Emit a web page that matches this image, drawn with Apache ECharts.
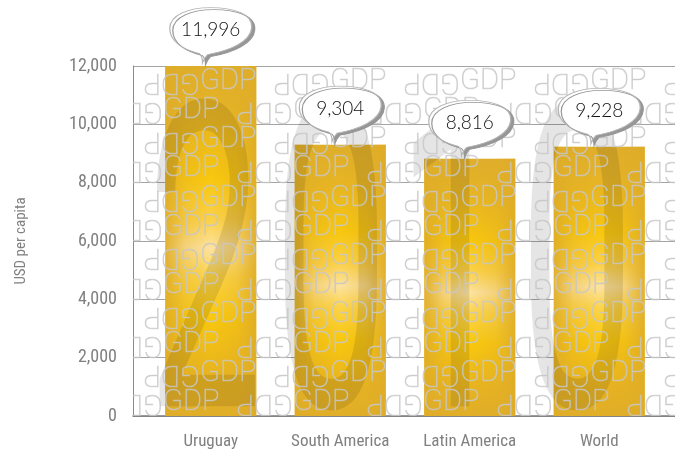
<!DOCTYPE html>
<html>
<head>
<meta charset="utf-8">
<script src="https://cdn.jsdelivr.net/npm/echarts@6/dist/echarts.min.js"></script>
<style>
html,body{margin:0;padding:0;background:#fff;}
#chart{width:675px;height:453px;}
</style>
</head>
<body>
<div id="chart"></div>
<script>
// ---- data ----
const categories = ['Uruguay', 'South America', 'Latin America', 'World'];
const gdpPerCapita = [11996, 9304, 8816, 9228];
const yTickValues = [0, 2000, 4000, 6000, 8000, 10000, 12000];
const yAxisTitle = 'USD per capita';
const backgroundYear = ['2', '0', '1', '0'];
const watermarkWord = 'GDP';

const axisFont = "'Roboto Condensed', 'Liberation Sans Narrow', 'DejaVu Sans Condensed', sans-serif";
const bubblePath = 'path://M33,56 C33,52 32,49 30,47 C14,43 1,35 1,22 C1,8 20,1 41,1 C63,1 82,7 81,21 C80,35 60,44 38,48 C36,50 34,53 33,56 Z';

// measure the big digit glyph so it spans the wanted band (top 93, bottom 413)
const digitBand = {top: 93, bottom: 413};
const mctx = document.createElement('canvas').getContext('2d');
mctx.textBaseline = 'middle';
mctx.font = 'normal 450px Roboto';
const m0 = mctx.measureText('0');
const digitFontSize = Math.round(450 * (digitBand.bottom - digitBand.top) /
  (m0.actualBoundingBoxAscent + m0.actualBoundingBoxDescent));
mctx.font = 'normal ' + digitFontSize + 'px Roboto';
const m1 = mctx.measureText('0');
const digitY = digitBand.bottom - m1.actualBoundingBoxDescent;

const chart = echarts.init(document.getElementById('chart'), null, {renderer: 'canvas'});

function renderDecor(params, api) {
  const cs = params.coordSys;
  const children = [];
  const digitCenters = [205, 331, 454, 577];
  backgroundYear.forEach((d, i) => {
    children.push({
      type: 'text',
      x: digitCenters[i],
      y: digitY,
      scaleX: 0.48,
      style: {
        text: d, x: 0, y: 0,
        font: 'normal ' + digitFontSize + 'px Roboto',
        fill: 'rgba(0,0,0,0.10)',
        align: 'center', verticalAlign: 'middle'
      }
    });
  });
  const period = 130;
  const rows = 12;
  const wmFont = '100 29px Roboto';
  const wmFill = 'rgba(200,200,200,0.7)';
  for (let r = 0; r < rows; r++) {
    const y = 81.5 + r * 29.2;
    const phase = (r % 2 === 0) ? 70 : 33;
    for (let gx = phase - period * 2; gx < cs.x + cs.width + period; gx += period) {
      children.push({
        type: 'text', x: gx, y: y,
        style: {text: watermarkWord, x: 0, y: 0, font: wmFont, fill: wmFill,
          stroke: wmFill, lineWidth: 0.7, align: 'left', verticalAlign: 'middle'}
      });
      children.push({
        type: 'text', x: gx + period, y: y, rotation: Math.PI,
        style: {text: watermarkWord, x: 0, y: 0, font: wmFont, fill: wmFill,
          stroke: wmFill, lineWidth: 0.7, align: 'left', verticalAlign: 'middle'}
      });
    }
  }
  return {type: 'group', children: children};
}

const option = {
  backgroundColor: '#ffffff',
  animation: false,
  grid: [
    {left: 133, right: 0, top: 66, bottom: 37},
    {left: 146, right: 11, top: 66, bottom: 37}
  ],
  xAxis: [
    {type: 'value', gridIndex: 0, min: 0, max: 1, show: true,
      axisLine: {show: true, onZero: false, lineStyle: {color: '#7a7a7a', width: 1.5}},
      axisTick: {show: false}, axisLabel: {show: false}, splitLine: {show: false}},
    {type: 'category', gridIndex: 1, data: categories,
      axisLine: {show: false}, axisTick: {show: false},
      axisLabel: {color: '#808080', fontSize: 17, fontFamily: axisFont, margin: 17, interval: 0}}
  ],
  yAxis: [
    {type: 'value', gridIndex: 0, min: yTickValues[0], max: yTickValues[yTickValues.length - 1],
      interval: yTickValues[1] - yTickValues[0],
      name: yAxisTitle, nameLocation: 'middle', nameGap: 104, nameRotate: 90,
      nameTextStyle: {color: '#808080', fontSize: 15, fontFamily: axisFont},
      axisLine: {show: true, lineStyle: {color: '#8a8a8a', width: 1}},
      axisTick: {show: false},
      axisLabel: {color: '#808080', fontSize: 18, fontFamily: axisFont, margin: 16,
        padding: [6, 0, 0, 0],
        formatter: v => v.toLocaleString('en-US')},
      splitLine: {show: true, lineStyle: {color: '#a4a4a4', width: 1}}},
    {type: 'value', gridIndex: 1, min: yTickValues[0], max: yTickValues[yTickValues.length - 1],
      show: false, splitLine: {show: false}}
  ],
  series: [
    {
      type: 'bar', xAxisIndex: 1, yAxisIndex: 1, data: gdpPerCapita, barWidth: 91, z: 2,
      silent: true,
      itemStyle: {
        color: {type: 'linear', x: 0, y: 0, x2: 0, y2: 1, colorStops: [
          {offset: 0, color: '#dfae2b'},
          {offset: 0.15, color: '#e7b523'},
          {offset: 0.32, color: '#f8c70d'},
          {offset: 0.44, color: '#fcd24a'},
          {offset: 0.52, color: '#fde3a2'},
          {offset: 0.6, color: '#fcd44a'},
          {offset: 0.72, color: '#f9c80c'},
          {offset: 0.88, color: '#e8b420'},
          {offset: 1, color: '#e0ae28'}
        ]}
      }
    },
    {
      type: 'bar', xAxisIndex: 1, yAxisIndex: 1, data: gdpPerCapita, barWidth: 91, barGap: '-100%', z: 2,
      silent: true,
      itemStyle: {
        color: {type: 'linear', x: 0, y: 0, x2: 1, y2: 0, colorStops: [
          {offset: 0, color: 'rgba(222,172,40,0.9)'},
          {offset: 0.22, color: 'rgba(222,172,40,0.3)'},
          {offset: 0.5, color: 'rgba(222,172,40,0)'},
          {offset: 0.78, color: 'rgba(222,172,40,0.3)'},
          {offset: 1, color: 'rgba(222,172,40,0.9)'}
        ]}
      }
    },
    {
      type: 'custom', xAxisIndex: 0, yAxisIndex: 0, coordinateSystem: 'cartesian2d',
      data: [[0, 0]], clip: true, z: 3, silent: true,
      renderItem: renderDecor
    },
    {
      type: 'scatter', xAxisIndex: 1, yAxisIndex: 1, z: 5, silent: true,
      data: categories.map((c, i) => [c, gdpPerCapita[i]]),
      symbol: bubblePath, symbolSize: [82, 55], symbolOffset: [0, -31],
      itemStyle: {color: '#ffffff', borderColor: '#b4b4b4', borderWidth: 1, opacity: 1,
        shadowColor: 'rgba(150,150,150,1)', shadowOffsetX: 3, shadowOffsetY: 2, shadowBlur: 0.5},
      label: {show: true, position: 'inside', offset: [0, -5], color: '#111',
        fontSize: 19, fontWeight: 300, fontFamily: "Lato, 'DejaVu Sans', sans-serif",
        formatter: p => p.value[1].toLocaleString('en-US')},
      emphasis: {disabled: true}
    }
  ]
};
chart.setOption(option);
</script>
</body>
</html>
